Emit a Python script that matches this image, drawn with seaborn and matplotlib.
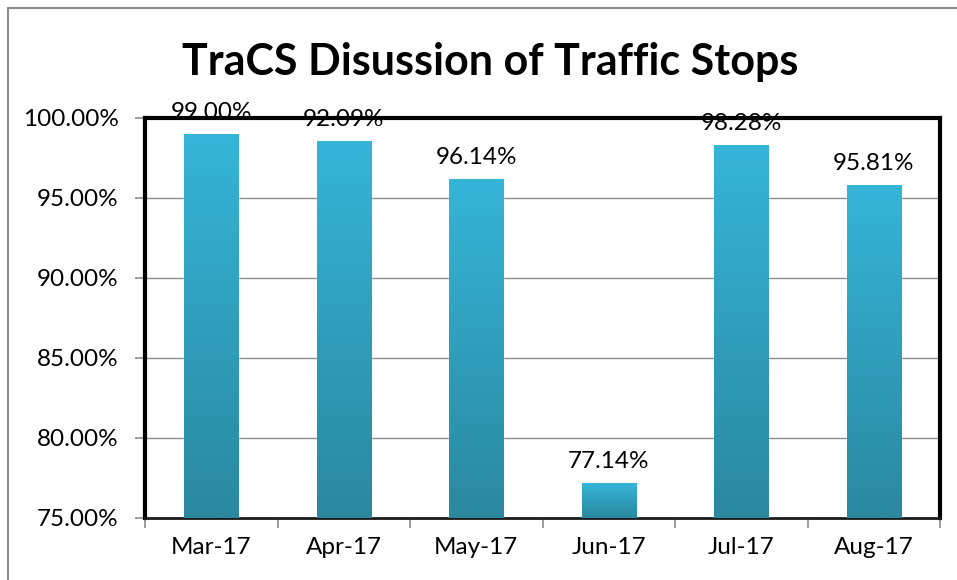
import numpy as np
import pandas as pd
import matplotlib
matplotlib.use('Agg')
import matplotlib.pyplot as plt
import seaborn as sns
from matplotlib.colors import LinearSegmentedColormap
from matplotlib.patches import Rectangle
from matplotlib.ticker import FixedLocator, FuncFormatter

# ========================================
# Данные
# ========================================
months = ['Mar-17', 'Apr-17', 'May-17', 'Jun-17', 'Jul-17', 'Aug-17']
values = [99.00, 98.55, 96.17, 77.17, 98.30, 95.81]
bar_labels = ['99.00%', '92.09%', '96.14%', '77.14%', '98.28%', '95.81%']
y_ticks = [75, 80, 85, 90, 95, 100]

df = pd.DataFrame({'month': months, 'value': values})

# ========================================
# Стиль
# ========================================
sns.set_style('white')
plt.rcParams['font.family'] = ['Lato', 'DejaVu Sans']
plt.rcParams['text.color'] = 'black'
plt.rcParams['xtick.labelcolor'] = 'black'
plt.rcParams['ytick.labelcolor'] = 'black'

fig = plt.figure(figsize=(9.57, 5.8), dpi=100)
ax = fig.add_axes([145 / 957, 62 / 580, 795 / 957, 400 / 580])

sns.barplot(data=df, x='month', y='value', ax=ax, color='#33B0D3',
            width=0.41, saturation=1, zorder=3)
ax.set_ylim(75, 100)
ax.set_xlim(-0.5, len(months) - 0.5)

# градиент на столбиках
cmap = LinearSegmentedColormap.from_list('bar', ['#2A889F', '#36B5D8'])
grad = np.linspace(0, 1, 256).reshape(-1, 1)
for p in ax.patches:
    x0, y0 = p.get_x(), p.get_y()
    w, h = p.get_width(), p.get_height()
    im = ax.imshow(grad, cmap=cmap, origin='lower', aspect='auto',
                   extent=[x0, x0 + w, 75, y0 + h], zorder=4)
    im.set_clip_path(p)
ax.set_xlim(-0.5, len(months) - 0.5)
ax.set_ylim(75, 100)

# подписи над столбиками
for p, lab in zip(ax.patches, bar_labels):
    ax.annotate(lab, (p.get_x() + p.get_width() / 2, p.get_height()),
                xytext=(0, 8), textcoords='offset points',
                ha='center', va='bottom', fontsize=17.5, color='black',
                zorder=6, annotation_clip=False)

# сетка и оси
ax.yaxis.set_major_locator(FixedLocator(y_ticks))
ax.yaxis.set_major_formatter(FuncFormatter(lambda v, _: f'{v:.2f}%'))
ax.grid(axis='y', color='#8C8C8C', linewidth=1, zorder=1)
ax.set_axisbelow(True)
ax.set_xlabel('')
ax.set_ylabel('')
ax.tick_params(axis='y', which='major', length=7, width=1.2, color='#8C8C8C',
               direction='out', pad=12, labelsize=17.5, left=True)
ax.tick_params(axis='x', which='major', length=0, pad=14, labelsize=17.5)
ax.xaxis.set_minor_locator(FixedLocator(np.arange(-0.5, len(months), 1)))
ax.tick_params(axis='x', which='minor', length=7, width=1.2,
               color='#8C8C8C', direction='out', bottom=True)

for side in ['left', 'top', 'right']:
    ax.spines[side].set_visible(True)
    ax.spines[side].set_color('black')
    ax.spines[side].set_linewidth(3)
ax.spines['bottom'].set_color('#1A1A1A')
ax.spines['bottom'].set_linewidth(2)

# заголовок
fig.text(490 / 957, 1 - 62 / 580, 'TraCS Disussion of Traffic Stops',
         ha='center', va='center', fontsize=31, fontweight='bold',
         color='black')

# внешняя рамка
fig.patches.append(Rectangle((8 / 957, -0.1), 1.2, 1 + 0.1 - 8 / 580,
                             transform=fig.transFigure, fill=False,
                             edgecolor='#8C8C8C', linewidth=1.5))

fig.savefig('out.png', dpi=100)
